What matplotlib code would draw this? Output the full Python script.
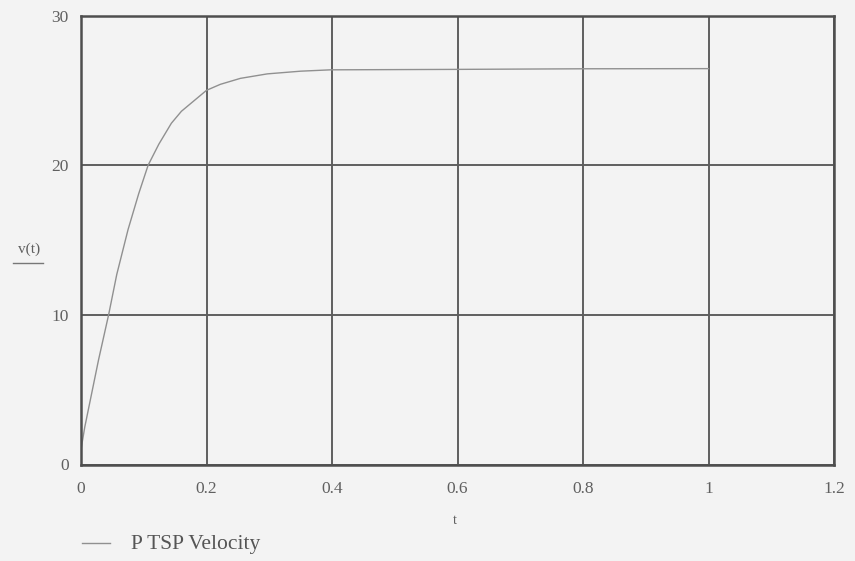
import matplotlib
matplotlib.use("Agg")
import matplotlib.pyplot as plt
from matplotlib.lines import Line2D

# Data
t_vals = [0.0, 0.006, 0.028, 0.044, 0.057, 0.075, 0.092, 0.107, 0.124, 0.144, 0.16,
          0.2, 0.222, 0.254, 0.297, 0.35, 0.398, 0.6, 0.8, 1.0]
v_vals = [1.0, 2.5, 7.0, 10.0, 12.7, 15.7, 18.1, 20.0, 21.4, 22.8, 23.6,
          25.0, 25.4, 25.8, 26.1, 26.28, 26.37, 26.4, 26.44, 26.45]
x_ticks = [0, 0.2, 0.4, 0.6, 0.8, 1, 1.2]
x_tick_labels = ["0", "0.2", "0.4", "0.6", "0.8", "1", "1.2"]
y_ticks = [0, 10, 20, 30]
y_tick_labels = ["0", "10", "20", "30"]
legend_label = "P TSP Velocity"

bg = "#f3f3f3"
serif = ["Liberation Serif", "DejaVu Serif"]

fig = plt.figure(figsize=(8.55, 5.61), dpi=100, facecolor=bg)
ax = fig.add_axes([81 / 855, 1 - 464.5 / 561, (834 - 81) / 855, (464.5 - 15.5) / 561])
ax.set_facecolor(bg)

ax.plot(t_vals, v_vals, color="#909090", lw=1.0)

ax.set_xlim(0, 1.2)
ax.set_ylim(0, 30)
ax.set_xticks(x_ticks)
ax.set_xticklabels(x_tick_labels)
ax.set_yticks(y_ticks)
ax.set_yticklabels(y_tick_labels)
ax.grid(True, color="#5e5e5e", lw=1.4)
ax.set_axisbelow(True)
for s in ax.spines.values():
    s.set_color("#4e4e4e")
    s.set_linewidth(1.8)

ax.tick_params(axis="both", length=0, colors="#606060", labelsize=12.5)
ax.tick_params(axis="x", pad=12)
ax.tick_params(axis="y", pad=9)
for lab in ax.get_xticklabels() + ax.get_yticklabels():
    lab.set_fontfamily(serif)

# axis labels
fig.text(455 / 855, 1 - 521 / 561, "t", ha="center", va="center",
         fontsize=10, color="#606060", family=serif)
fig.text(29 / 855, 1 - 249 / 561, "v(t)", ha="center", va="center",
         fontsize=11, color="#606060", family=serif)
fig.add_artist(Line2D([13 / 855, 43 / 855], [1 - 263 / 561, 1 - 263 / 561],
                      color="#777777", lw=1.0, transform=fig.transFigure))

# legend
fig.add_artist(Line2D([82 / 855, 110 / 855], [1 - 543 / 561, 1 - 543 / 561],
                      color="#909090", lw=1.0, transform=fig.transFigure))
fig.text(131 / 855, 1 - 544 / 561, legend_label, ha="left", va="center",
         fontsize=15.5, color="#555555", family=serif)

fig.savefig("out.png", dpi=100, facecolor=bg)
